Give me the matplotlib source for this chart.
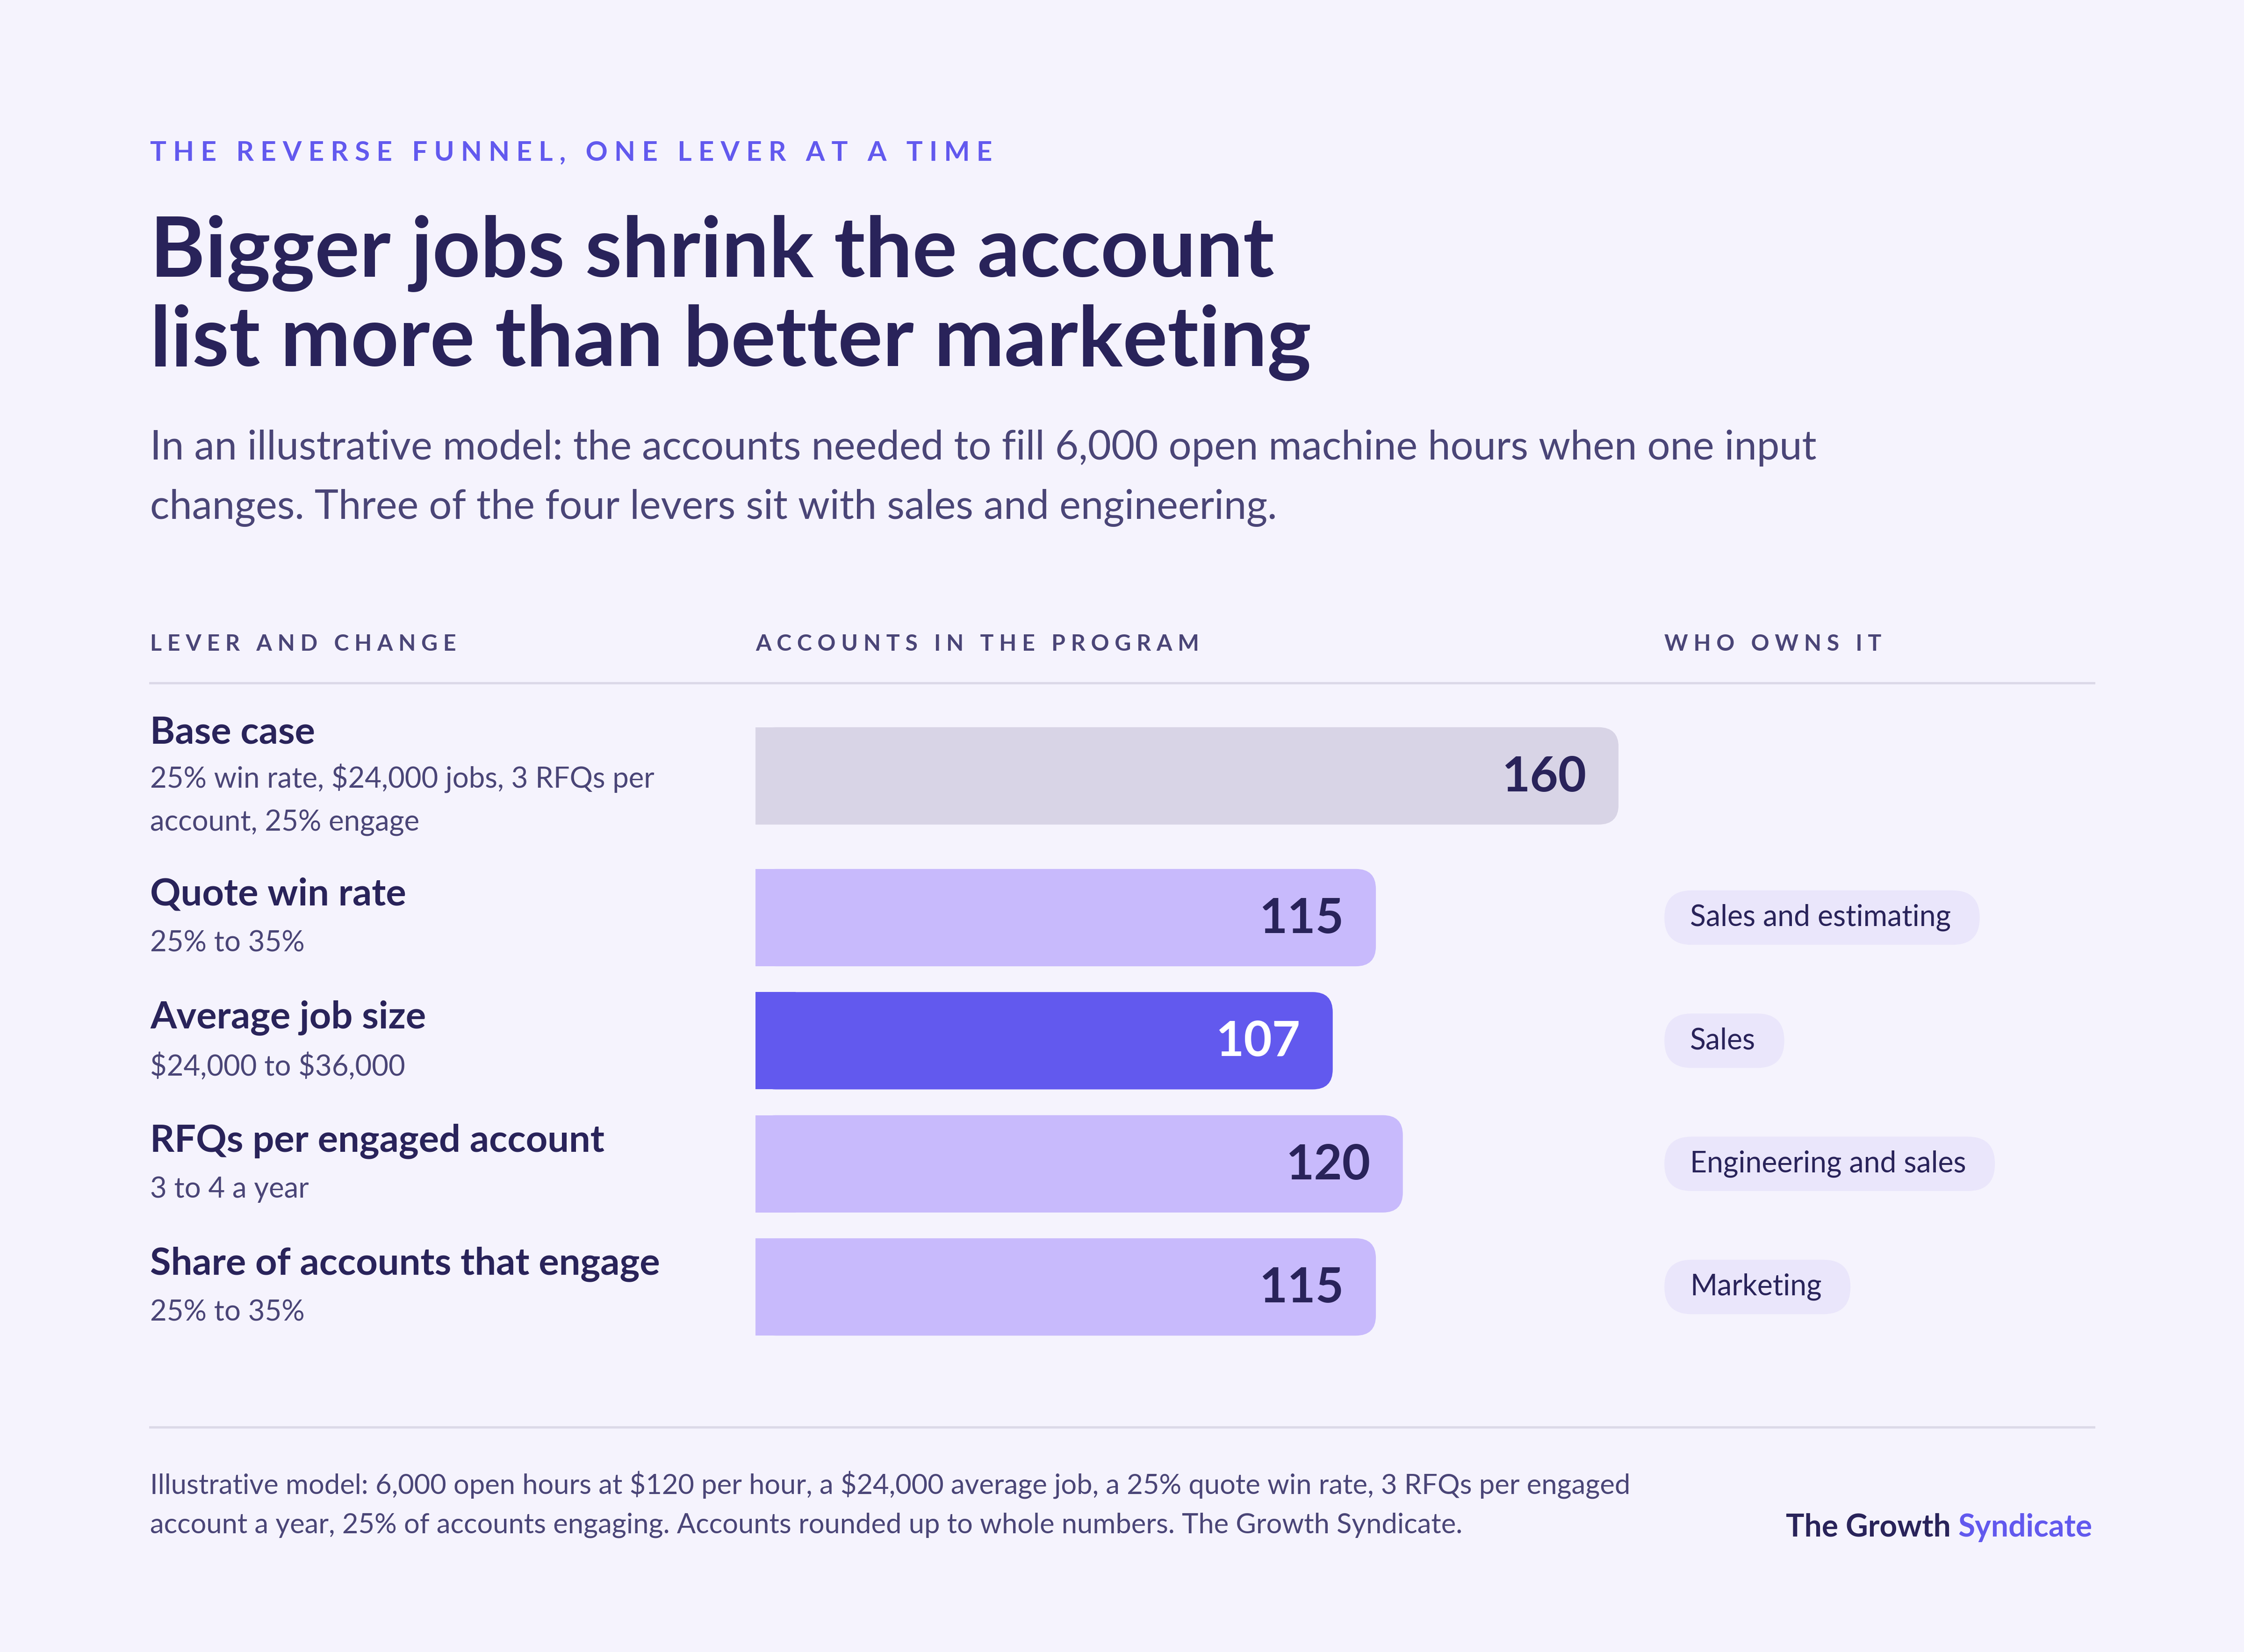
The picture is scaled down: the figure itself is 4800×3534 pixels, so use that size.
import matplotlib
matplotlib.use("Agg")
import matplotlib.pyplot as plt
from matplotlib.patches import FancyBboxPatch, Rectangle

labels = ["Base case", "Quote win rate", "Average job size", "RFQs per engaged account", "Share of accounts that engage"]
sublabels = ["25% win rate, \\$24,000 jobs, 3 RFQs per\naccount, 25% engage", "25% to 35%", "\\$24,000 to \\$36,000", "3 to 4 a year", "25% to 35%"]
values = [160, 115, 107, 120, 115]
owners = ["", "Sales and estimating", "Sales", "Engineering and sales", "Marketing"]

BG = "#F5F3FD"; DARK = "#29235A"; ACC = "#6259EE"; MUTED = "#4A4577"
BASEC = "#D8D4E6"; LIGHT = "#C8BAFC"; PILL = "#EAE6FB"; LINE = "#DCD9E8"
W, H = 1568, 1154
FONT = ["Lato", "DejaVu Sans"]
plt.rcParams["font.family"] = FONT

def spaced(t):
    return "   ".join(" ".join(w) for w in t.split(" "))

fig = plt.figure(figsize=(16, 16 * 3534 / 4800), dpi=300, facecolor=BG)
ax = fig.add_axes([0, 0, 1, 1]); ax.set_xlim(0, W); ax.set_ylim(H, 0); ax.axis("off")
renderer = fig.canvas.get_renderer()
pxscale = W / 4800

ax.text(105, 107, spaced("THE REVERSE FUNNEL, ONE LEVER AT A TIME"),
        color=ACC, fontsize=14, weight="bold", va="center")
ax.text(105, 208, "Bigger jobs shrink the account\nlist more than better marketing", color=DARK,
        fontsize=43, weight="bold", va="center", linespacing=1.2)
ax.text(105, 334, "In an illustrative model: the accounts needed to fill 6,000 open machine hours when one input\nchanges. Three of the four levers sit with sales and engineering.",
        color=MUTED, fontsize=20.8, va="center", linespacing=1.75)
for x, t in [(105, "LEVER AND CHANGE"), (528, "ACCOUNTS IN THE PROGRAM"), (1163, "WHO OWNS IT")]:
    ax.text(x, 450, spaced(t), color=MUTED, fontsize=11.6, weight="bold", va="center")
ax.plot([105, 1463], [477, 477], color=LINE, lw=1.2)
ax.plot([105, 1463], [997, 997], color=LINE, lw=1.2)

ys = [542, 641, 727, 813, 899]
for i, y in enumerate(ys):
    top = y - 30 if i == 0 else y - 16
    ax.text(105, top, labels[i], color=DARK, fontsize=19.5, weight="bold", va="center")
    ax.text(105, top + 47 if i == 0 else top + 34, sublabels[i], color=MUTED, fontsize=14.8, va="center", linespacing=1.75)
    if owners[i]:
        tx = ax.text(1181, y, owners[i], color=DARK, fontsize=15, va="center", zorder=3)
        tw = tx.get_window_extent(renderer).width * pxscale
        ax.add_patch(FancyBboxPatch((1163, y - 19), tw + 38, 38, boxstyle="round,pad=0,rounding_size=19",
                                    fc=PILL, ec="none", zorder=2))

ax.text(105, 1051, "Illustrative model: 6,000 open hours at \\$120 per hour, a \\$24,000 average job, a 25% quote win rate, 3 RFQs per engaged\naccount a year, 25% of accounts engaging. Accounts rounded up to whole numbers. The Growth Syndicate.",
        color=MUTED, fontsize=14.3, va="center", linespacing=1.65)
t = ax.text(1462, 1067, "Syndicate", color=ACC, fontsize=15.8, weight="bold", va="center", ha="right")
ax.annotate("The Growth ", xycoords=t, xy=(0, 0.5), color=DARK, fontsize=15.8, weight="bold", va="center", ha="right")

# bar axes: x in data units, y in pixel units
x0, x1 = 528, 1131
bx = fig.add_axes([x0 / W, 0, (x1 - x0) / W, 1]); bx.set_xlim(0, 160); bx.set_ylim(H, 0); bx.axis("off")
pxu = (x1 - x0) / 160
bh = 68
for i, (v, y) in enumerate(zip(values, ys)):
    c = BASEC if i == 0 else (ACC if i == 2 else LIGHT)
    r = 14 / pxu
    bx.add_patch(FancyBboxPatch((0, y - bh / 2), v, bh, boxstyle=f"round,pad=0,rounding_size={r}",
                                mutation_aspect=pxu, fc=c, ec="none"))
    bx.add_patch(Rectangle((0, y - bh / 2), r * 2, bh, fc=c, ec="none"))
    bx.text(v - 6, y + 1, str(v), color="white" if i == 2 else DARK, fontsize=25, weight="bold",
            ha="right", va="center")

fig.savefig("out.png", dpi=300, facecolor=BG)
